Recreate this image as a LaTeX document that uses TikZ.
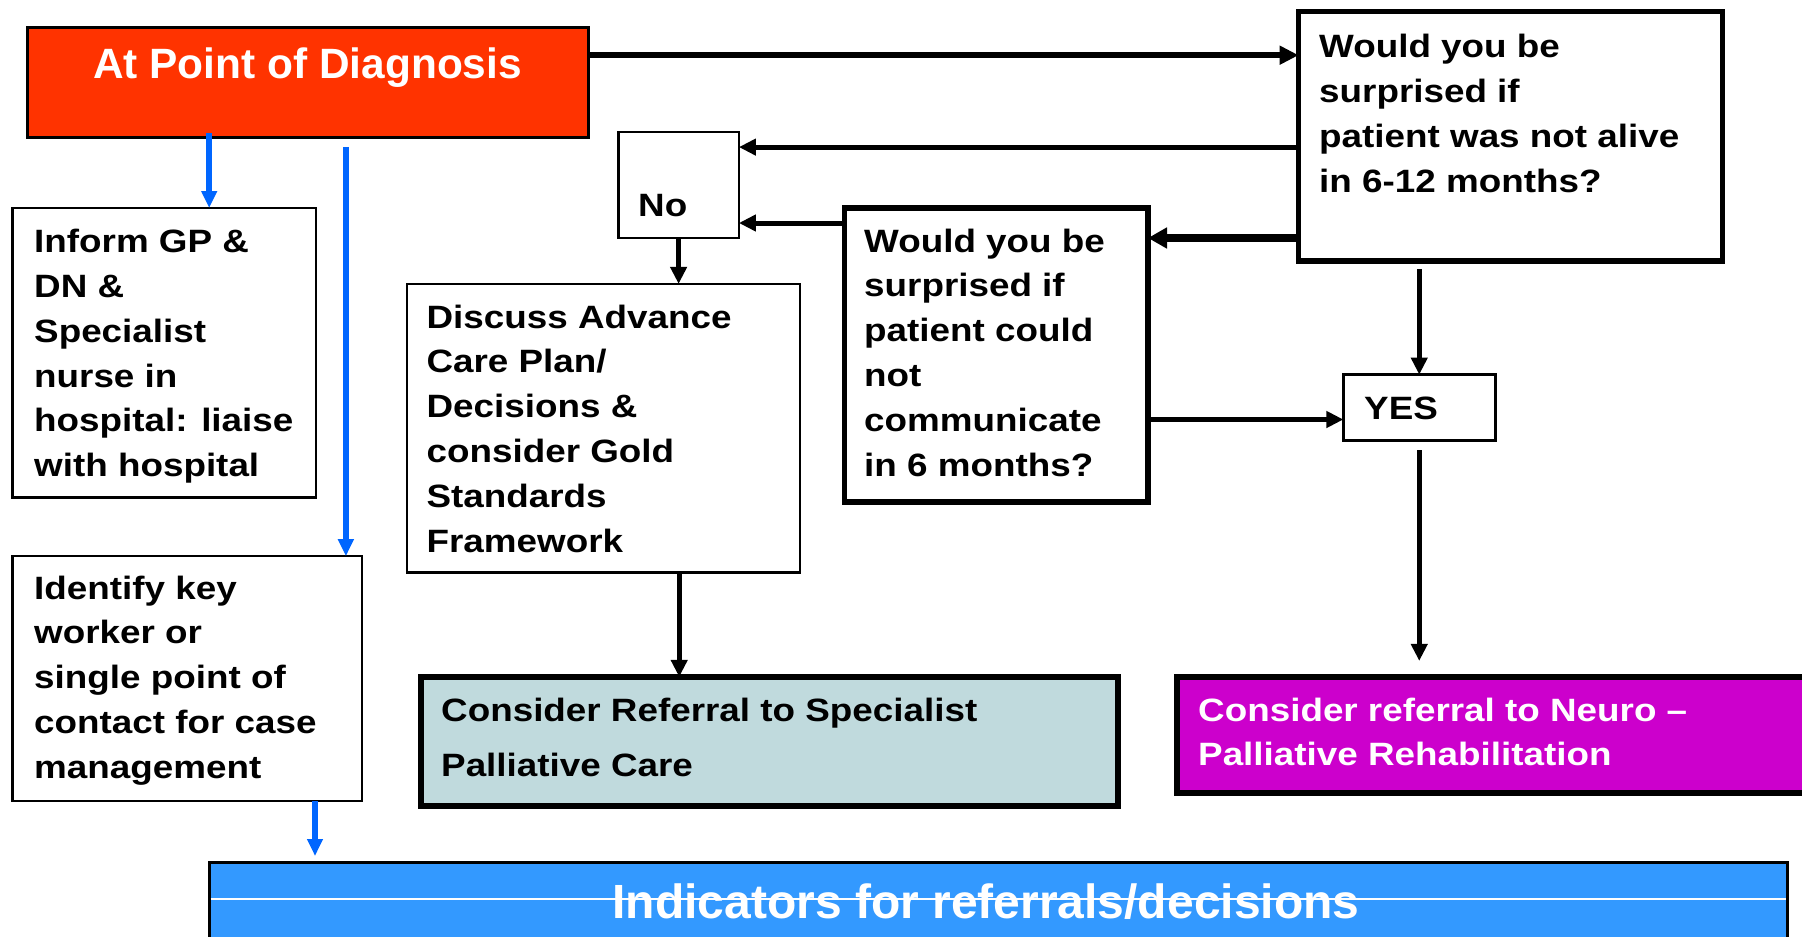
\documentclass[tikz,border=0pt]{standalone}
\usepackage{fontspec}
\setmainfont{Liberation Sans}
\newfontfamily\bodyfont{Liberation Sans}[FakeStretch=1.14]
\usetikzlibrary{arrows.meta,calc}
\definecolor{dxred}{HTML}{FF3300}
\definecolor{barblue}{HTML}{3399FF}
\definecolor{arrowblue}{HTML}{0066FF}
\definecolor{neuromag}{HTML}{CC00CC}
\definecolor{greyblue}{HTML}{C0DADD}
\tikzset{
  box/.style={draw=black, fill=white, anchor=north west, inner sep=0pt, outer sep=0pt, rectangle},
  txt/.style={anchor=north west, inner sep=0pt, align=left, font=\bodyfont\bfseries\fontsize{32.3}{44.8}\selectfont},
  arrK/.style={draw=black, line width=5pt, -{Triangle[length=17pt,width=16pt]}},
  arrB/.style={draw=arrowblue, line width=5.5pt, -{Triangle[length=17pt,width=15pt]}}
}
\begin{document}
\begin{tikzpicture}[x=1pt,y=-1pt]
\useasboundingbox (0,0) rectangle (1802,937);
\clip (0,0) rectangle (1802,937);
\fill[white] (0,0) rectangle (1802,937);

% boxes
\node[box, fill=dxred, line width=3pt, minimum width=560.8pt, minimum height=110.3pt] (red) at (27.6,27.6) {};
\node[box, line width=5.5pt, minimum width=424pt, minimum height=249.4pt] (q1) at (1298.6,11.5) {};
\node[box, line width=2.5pt, minimum width=120.6pt, minimum height=105.7pt] (no) at (618.3,132.2) {};
\node[box, line width=5.5pt, minimum width=303.3pt, minimum height=294.2pt] (q2) at (844.7,208) {};
\node[box, line width=3pt, minimum width=151.7pt, minimum height=65.5pt] (yes) at (1343.4,374.6) {};
\node[box, fill=neuromag, line width=6pt, minimum width=700pt, minimum height=116.1pt] (neuro) at (1176.8,676.9) {};
\node[box, fill=greyblue, line width=6pt, minimum width=697.6pt, minimum height=128.7pt] (consider) at (420.6,676.9) {};
\node[box, line width=2.5pt, minimum width=393pt, minimum height=288.4pt] (discuss) at (406.8,283.9) {};
\node[box, line width=2.5pt, minimum width=303.4pt, minimum height=289.6pt] (inform) at (12.6,208) {};
\node[box, line width=2.5pt, minimum width=349.4pt, minimum height=244.8pt] (identify) at (12.6,556.2) {};
\node[box, fill=barblue, line width=3pt, minimum width=1577.8pt, minimum height=100pt] (bar) at (209.2,862) {};

% white rule across the bar
\coordinate (yW) at (0,899);
\draw[white, line width=1.5pt] ($(bar.west |- yW)+(1.5,0)$) -- ($(bar.east |- yW)+(-1.5,0)$);

% texts
\node[anchor=base, inner sep=0pt, text=white, font=\bfseries\fontsize{42.4}{50}\selectfont] (tTitle) at (307.5,78) {At Point of Diagnosis};
\node[txt] (tQ1) at (1319,26.1) {\strut Would you be\\surprised if\\patient was not alive\\in 6-12 months?};
\node[txt] (tNo) at (638,184.6) {\strut No};
\node[txt] (tQ2) at (864,220.6) {\strut Would you be\\surprised if\\patient could\\not\\communicate\\in 6 months?};
\node[txt] (tYes) at (1364,387.6) {\strut YES};
\node[txt] (tInform) at (34,221.1) {\strut Inform GP \&\\DN \&\\Specialist\\nurse in\\hospital: liaise\\with hospital};
\node[txt] (tIdentify) at (34,567.6) {\strut Identify key\\worker or\\single point of\\contact for case\\management};
\node[txt] (tDiscuss) at (426.4,296.6) {\strut Discuss Advance\\Care Plan/\\Decisions \&\\consider Gold\\Standards\\Framework};
\node[txt, font=\bodyfont\bfseries\fontsize{32.3}{55}\selectfont] (tConsider) at (441,682.5) {\strut Consider Referral to Specialist\\Palliative Care};
\node[txt, text=white] (tNeuro) at (1198,689.6) {\strut Consider referral to Neuro –\\Palliative Rehabilitation};
\node[anchor=base, inner sep=0pt, text=white, font=\bfseries\fontsize{48}{56}\selectfont] (tBar) at (986,918) {Indicators for referrals/decisions};

% connectors
\coordinate (yA) at (0,55.2);
\coordinate (yB) at (0,147.1);
\coordinate (yC) at (0,238);
\coordinate (yD) at (0,223);
\coordinate (yF) at (0,419.5);
\coordinate (xE) at (679.2,0);
\coordinate (xB1) at (209.2,0);
\coordinate (xB2) at (345.9,0);
\coordinate (xB3) at (315,0);

\draw[arrK, line width=6pt, -{Triangle[length=19pt,width=18pt]}] (red.east |- yA) -- (q1.west |- yA);
\draw[arrK] (q1.west |- yB) -- (no.east |- yB);
\draw[arrK, line width=7.5pt, -{Triangle[length=19pt,width=20pt]}] (q1.west |- yC) -- (q2.east |- yC);
\draw[arrK] (q2.west |- yD) -- (no.east |- yD);
\draw[arrK, line width=4.5pt] (no.south) -- (no.south |- discuss.north);
\draw[arrK] (xE |- discuss.south) -- (xE |- consider.north);
\draw[arrK, line width=4.5pt] (q2.east |- yF) -- (yes.west |- yF);
\draw[arrK, line width=4.5pt] ($(q1.south -| yes.north)+(0,8)$) -- (yes.north);
\draw[arrK, line width=4.5pt] ($(yes.south)+(0,10)$) -- ($(yes.south |- neuro.north)+(0,-16)$);

\draw[arrB] ($(red.south -| xB1)+(0,-5)$) -- (inform.north -| xB1);
\draw[arrB] ($(red.south -| xB2)+(0,9)$) -- (identify.north -| xB2);
\draw[arrB] (identify.south -| xB3) -- ($(bar.north -| xB3)+(0,-6)$);
\end{tikzpicture}
\end{document}
